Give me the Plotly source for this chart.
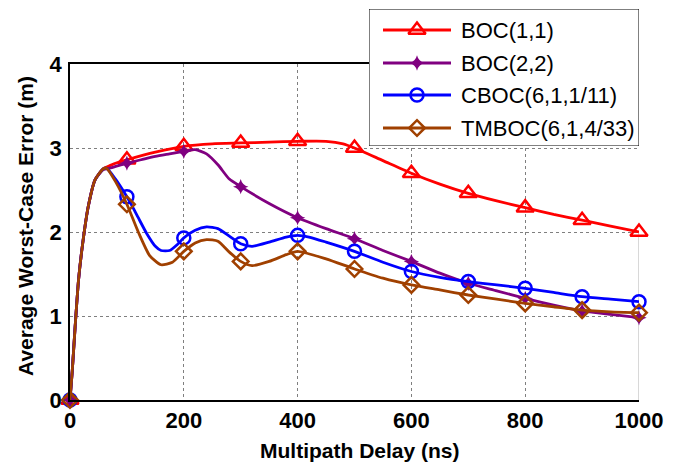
import numpy as np
import plotly.graph_objects as go

# Multipath error envelope: average worst-case error (m) vs. multipath delay (ns)
boc11_delay = [0, 4, 9, 15, 23, 32, 44, 58, 70, 85, 100, 150, 200, 250, 300, 350, 400,
               450, 480, 500, 550, 600, 650, 700, 750, 800, 850, 900, 950, 1000]
boc11_err = [0, 0.35, 0.87, 1.43, 1.9, 2.3, 2.62, 2.75, 2.79, 2.83, 2.86, 2.95, 3.02, 3.05,
             3.06, 3.07, 3.08, 3.08, 3.05, 3.0, 2.85, 2.7, 2.57, 2.46, 2.37, 2.29, 2.21,
             2.14, 2.07, 2.0]

boc22_delay = [0, 4, 9, 15, 23, 32, 44, 58, 70, 85, 100, 125, 150, 175, 200, 220, 240, 260,
               280, 300, 350, 400, 450, 500, 550, 600, 650, 700, 750, 800, 850, 900, 950, 1000]
boc22_err = [0, 0.35, 0.87, 1.43, 1.9, 2.3, 2.62, 2.74, 2.76, 2.79, 2.82, 2.86, 2.9, 2.93,
             2.96, 2.98, 2.93, 2.8, 2.63, 2.54, 2.34, 2.17, 2.04, 1.92, 1.78, 1.65, 1.51,
             1.39, 1.3, 1.21, 1.13, 1.06, 1.02, 0.98]

cboc_delay = [0, 4, 9, 15, 23, 32, 44, 58, 64, 80, 100, 110, 120, 135, 150, 160, 175, 190,
              200, 220, 240, 260, 280, 300, 320, 350, 380, 400, 420, 450, 500, 550, 600, 650,
              700, 750, 800, 850, 900, 950, 1000]
cboc_err = [0, 0.35, 0.87, 1.43, 1.9, 2.3, 2.62, 2.75, 2.76, 2.63, 2.42, 2.3, 2.17, 1.98,
            1.83, 1.78, 1.78, 1.86, 1.93, 2.02, 2.06, 2.04, 1.95, 1.86, 1.83, 1.88, 1.94,
            1.96, 1.94, 1.88, 1.77, 1.64, 1.53, 1.46, 1.41, 1.37, 1.33, 1.28, 1.23, 1.2,
            1.17]

tmboc_delay = [0, 4, 9, 15, 23, 32, 44, 58, 64, 80, 100, 120, 140, 160, 180, 200, 220, 240,
               260, 280, 300, 320, 350, 380, 400, 450, 500, 550, 600, 650, 700, 750, 800,
               850, 900, 950, 1000]
tmboc_err = [0, 0.35, 0.87, 1.43, 1.9, 2.3, 2.62, 2.75, 2.76, 2.6, 2.33, 2.0, 1.72, 1.61,
             1.64, 1.77, 1.87, 1.91, 1.89, 1.76, 1.65, 1.6, 1.65, 1.73, 1.77, 1.68, 1.56,
             1.45, 1.37, 1.31, 1.25, 1.2, 1.15, 1.11, 1.07, 1.05, 1.04]

series_names = ["BOC(1,1)", "BOC(2,2)", "CBOC(6,1,1/11)", "TMBOC(6,1,4/33)"]
x_ticks = [0, 200, 400, 600, 800, 1000]
y_ticks = [0, 1, 2, 3, 4]

colors = ["#FF0000", "#800080", "#0000FF", "#A04000"]
markers = [
    dict(symbol="triangle-up-open", size=15, line=dict(width=2.5)),
    dict(symbol="star-diamond", size=11, line=dict(width=0)),
    dict(symbol="circle-open", size=13, line=dict(width=2.5)),
    dict(symbol="diamond-open", size=12, line=dict(width=2.5)),
]
delays = [boc11_delay, boc22_delay, cboc_delay, tmboc_delay]
errors = [boc11_err, boc22_err, cboc_err, tmboc_err]

font_family = "Liberation Sans, Arial, sans-serif"

# page geometry (px): paper area spans the plot plus the legend box above it
W, H = 681, 462
ML, MR, MT, MB = 70, 42, 9, 62
paper_w = W - ML - MR
paper_h = H - MT - MB
plot_h = 336                      # height of the data area
leg_left, leg_w, leg_h = 369, 270, 137
row_y = [21, 54, 86, 119]         # legend rows, px from the legend top

fig = go.Figure()
for name, d, e, color, mk in zip(series_names, delays, errors, colors, markers):
    d = np.asarray(d)
    e = np.asarray(e)
    fig.add_trace(go.Scatter(x=d, y=e, mode="lines",
                             line=dict(color=color, width=2.8, shape="spline", smoothing=0.6),
                             showlegend=False, hoverinfo="skip", cliponaxis=False))
    sel = d % 100 == 0
    fig.add_trace(go.Scatter(x=d[sel], y=e[sel], mode="markers", name=name,
                             marker=dict(color=color, **mk),
                             showlegend=False, cliponaxis=False))

# legend drawn in its own small subplot (px units)
for i, (name, color, mk) in enumerate(zip(series_names, colors, markers)):
    fig.add_trace(go.Scatter(x=[14, 82], y=[row_y[i]] * 2, mode="lines",
                             line=dict(color=color, width=2.8), xaxis="x2", yaxis="y2",
                             showlegend=False, hoverinfo="skip"))
    fig.add_trace(go.Scatter(x=[48], y=[row_y[i]], mode="markers",
                             marker=dict(color=color, **mk), xaxis="x2", yaxis="y2",
                             showlegend=False, hoverinfo="skip", cliponaxis=False))

annotations = [
    dict(text=n, xref="x2", yref="y2", x=90, y=row_y[i], xanchor="left", yanchor="middle",
         showarrow=False, font=dict(size=22, color="black"))
    for i, n in enumerate(series_names)
]
annotations += [
    dict(text="Multipath Delay (ns)", xref="paper", yref="paper", x=0.51,
         y=(H - MB - 450) / paper_h, xanchor="center", yanchor="middle", showarrow=False,
         font=dict(size=21, weight="bold")),
    dict(text="Average Worst-Case Error (m)", xref="paper", yref="paper",
         x=(25 - ML) / paper_w, y=(H - MB - 226) / paper_h, xanchor="center",
         yanchor="middle", showarrow=False, textangle=-90, font=dict(size=21, weight="bold")),
]

fig.update_layout(
    width=W, height=H,
    margin=dict(l=ML, r=MR, t=MT, b=MB, autoexpand=False),
    paper_bgcolor="white", plot_bgcolor="white",
    font=dict(family=font_family, color="black"),
    showlegend=False,
    xaxis=dict(range=[0, 1000], tickvals=x_ticks, ticktext=[str(v) for v in x_ticks],
               showgrid=True, gridcolor="#7f7f7f", griddash="dot", gridwidth=1,
               zeroline=False, showline=True, linecolor="black", linewidth=2, mirror=True,
               ticks="", tickfont=dict(size=22, weight="bold"), ticklabelstandoff=0,
               automargin=False, fixedrange=True),
    yaxis=dict(range=[0, 4], tickvals=y_ticks, ticktext=[str(v) for v in y_ticks],
               domain=[0, plot_h / paper_h],
               showgrid=True, gridcolor="#7f7f7f", griddash="dot", gridwidth=1,
               zeroline=False, showline=True, linecolor="black", linewidth=1.5,
               ticks="", tickfont=dict(size=22, weight="bold"), ticklabelstandoff=2,
               automargin=False, fixedrange=True),
    xaxis2=dict(domain=[(leg_left - ML) / paper_w, 1], range=[0, leg_w], visible=False,
                anchor="y2", automargin=False, fixedrange=True),
    yaxis2=dict(domain=[1 - leg_h / paper_h, 1], range=[leg_h, 0], visible=False,
                anchor="x2", automargin=False, fixedrange=True),
    shapes=[
        dict(type="line", xref="x", yref="y", x0=1000, x1=1000, y0=0, y1=2.0, layer="below",
             line=dict(color="#b0b0b0", width=1)),
        dict(type="rect", xref="x2", yref="y2", x0=0, x1=leg_w, y0=0, y1=leg_h,
             layer="below", fillcolor="white", line=dict(color="black", width=1)),
    ],
    annotations=annotations,
)

fig.write_html("out.html")
